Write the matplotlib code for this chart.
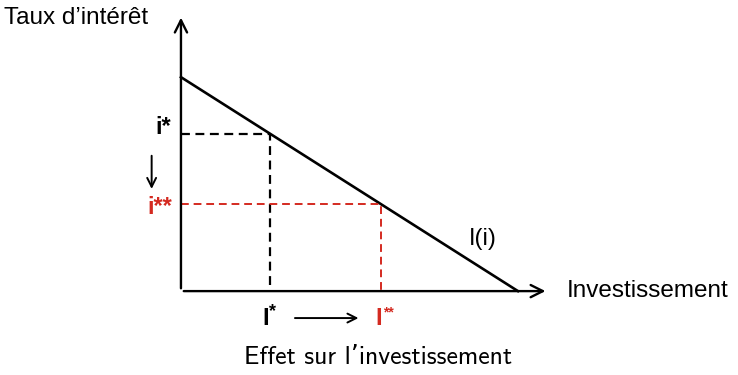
import matplotlib.pyplot as plt

# demande d'investissement I(i): i = i_max * (1 - I / I_max)
I_max = 10.0
i_max = 6.35
I_star, I_2star = 2.65, 5.93
i_star = i_max * (1 - I_star / I_max)
i_2star = i_max * (1 - I_2star / I_max)
x_end, y_end = 10.9, 8.2
red = '#d42a20'

fig = plt.figure(figsize=(7.38, 3.75), dpi=100)
ax = fig.add_axes([0, 0, 1, 1])
ax.set_xlim(-5.37, 16.53)
ax.set_ylim(-2.49, 8.64)
ax.axis('off')

# axes with arrows
ax.annotate('', xy=(0, y_end), xytext=(0, 0),
            arrowprops=dict(arrowstyle='->', lw=1.7, color='black', mutation_scale=22))
ax.annotate('', xy=(x_end, 0), xytext=(0, 0),
            arrowprops=dict(arrowstyle='->', lw=1.7, color='black', mutation_scale=22))

# droite I(i)
ax.plot([0, I_max], [i_max, 0], color='black', lw=1.9)

# pointillés
ax.plot([0, I_star, I_star], [i_star, i_star, 0], color='black', lw=1.6, ls=(0, (4, 2.5)))
ax.plot([0, I_2star, I_2star], [i_2star, i_2star, 0], color=red, lw=1.4, ls=(0, (4, 2.5)))

f = 'Liberation Sans'
ax.text(-5.25, y_end - 0.1, 'Taux d\u2019intérêt', fontsize=17.5, family=f, va='center', ha='left')
ax.text(11.45, 0, 'Investissement', fontsize=17.5, family=f, va='center', ha='left')
ax.text(-0.3, i_star + 0.2, 'i*', fontsize=17, family=f, weight='bold', ha='right', va='center')
ax.text(-0.25, i_2star - 0.1, 'i**', fontsize=17, family=f, weight='bold', color=red,
        ha='right', va='center')
ax.text(8.55, 1.55, 'I(i)', fontsize=17, family=f, ha='left', va='center')

# I* et I** avec petites étoiles
ax.text(I_star - 0.05, -0.82, 'I', fontsize=17, family=f, weight='bold', ha='right', va='center')
ax.text(I_star - 0.03, -0.62, '*', fontsize=13, family=f, weight='bold', ha='left', va='center')
ax.text(I_2star + 0.05, -0.82, 'I', fontsize=17, family=f, weight='bold', color=red,
        ha='right', va='center')
ax.text(I_2star + 0.07, -0.62, '**', fontsize=10, family=f, weight='bold', color=red,
        ha='left', va='center')

# flèches de l'effet
ax.annotate('', xy=(-0.87, 2.95), xytext=(-0.87, 4.1),
            arrowprops=dict(arrowstyle='->', lw=1.4, color='black', mutation_scale=16))
ax.annotate('', xy=(5.35, -0.8), xytext=(3.3, -0.8),
            arrowprops=dict(arrowstyle='->', lw=1.4, color='black', mutation_scale=16))

ax.text(5.85, -1.98, 'Effet sur l\u2019investissement', fontsize=18.5,
        family=['cmss10', 'DejaVu Sans'], ha='center', va='center')

fig.savefig('out.png', dpi=100)
